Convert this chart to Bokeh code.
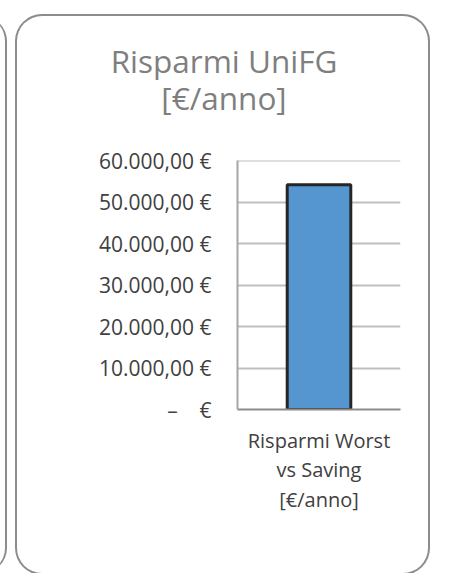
from bokeh.plotting import figure
from bokeh.models import FactorRange, Range1d, FixedTicker, Label
from bokeh.embed import file_html
from bokeh.resources import INLINE

# ---- data ----
categories = ["Risparmi Worst\nvs Saving\n[€/anno]"]
savings = [54200]
tick_values = [0, 10000, 20000, 30000, 40000, 50000, 60000]
tick_labels = ["–\u00a0\u00a0\u00a0\u00a0€", "10.000,00 €", "20.000,00 €", "30.000,00 €",
               "40.000,00 €", "50.000,00 €", "60.000,00 €"]
title_lines = ["Risparmi UniFG", "[€/anno]"]

FONT = "Open Sans"
TEXT_DARK = "#404040"
BORDER = "#8c8c8c"

# ---------------- chart ----------------
p = figure(width=411, height=557,
           x_range=FactorRange(factors=categories, range_padding=0),
           y_range=Range1d(0, 60080),
           output_backend="svg", toolbar_location=None,
           min_border_left=220, min_border_right=28,
           min_border_top=144, min_border_bottom=164)

# rounded chart panel (and the edge of the neighbouring panel) drawn with CSS
p.styles = {
    "position": "absolute",
    "left": "17px",
    "top": "16px",
    "border-radius": "25px",
    "overflow": "hidden",
    "box-shadow": f"0 0 0 2px {BORDER}, -423px 0 0 0 #ffffff, -421px 0 0 0 {BORDER}",
}

p.outline_line_color = None
p.background_fill_color = "white"
p.border_fill_color = None

p.vbar(x=categories, top=savings, width=0.39,
       fill_color="#5596d0", line_color="#262626", line_width=3)

# y axis
p.yaxis.ticker = FixedTicker(ticks=tick_values)
p.yaxis.major_label_overrides = {v: s for v, s in zip(tick_values, tick_labels)}
p.yaxis.major_tick_line_color = None
p.yaxis.major_tick_out = 0
p.yaxis.major_tick_in = 0
p.yaxis.minor_tick_line_color = None
p.yaxis.axis_line_color = "#a6a6a6"
p.yaxis.axis_line_width = 2
p.yaxis.major_label_standoff = 26
p.yaxis.major_label_text_font = FONT
p.yaxis.major_label_text_font_size = "21px"
p.yaxis.major_label_text_color = TEXT_DARK

# x axis
p.xaxis.major_tick_line_color = None
p.xaxis.major_tick_out = 0
p.xaxis.major_tick_in = 0
p.xaxis.minor_tick_line_color = None
p.xaxis.axis_line_color = BORDER
p.xaxis.axis_line_width = 2
p.xaxis.major_label_standoff = 17
p.xaxis.major_label_text_font = FONT
p.xaxis.major_label_text_font_size = "20px"
p.xaxis.major_label_text_color = TEXT_DARK
p.xaxis.major_label_text_line_height = 1.11
p.xaxis.major_label_orientation = "horizontal"

p.xgrid.grid_line_color = None
p.ygrid.grid_line_color = "#bfbfbf"
p.ygrid.grid_line_width = 2

# ---------------- title (transparent overlay figure) ----------------
pt = figure(width=411, height=120, output_backend="svg", toolbar_location=None,
            x_range=Range1d(0, 1), y_range=Range1d(0, 1),
            x_axis_type=None, y_axis_type=None, min_border=0)
pt.styles = {"position": "absolute", "left": "17px", "top": "16px"}
pt.outline_line_color = None
pt.background_fill_color = None
pt.border_fill_color = None
pt.grid.visible = False

for txt, yy in zip(title_lines, [43.7, 80.5]):
    pt.add_layout(Label(x=206.5, y=yy, x_units="canvas", y_units="canvas",
                        text=txt, text_align="center", text_baseline="alphabetic",
                        text_font=FONT, text_font_size="31.5px", text_color="#7f7f7f"))

open("out.html", "w").write(file_html([p, pt], INLINE))
